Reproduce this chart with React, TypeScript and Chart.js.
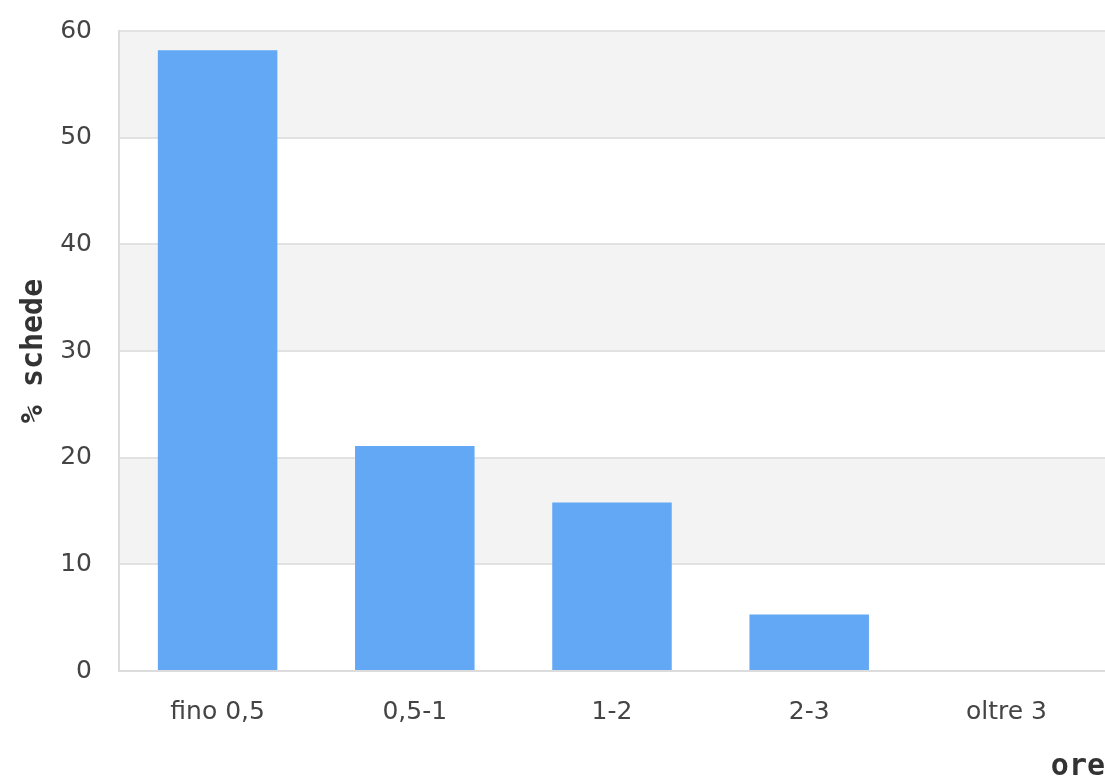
import React, { useEffect, useRef } from "react";
import { Chart, registerables } from "chart.js";

Chart.register(...registerables);

const categories = ["fino 0,5", "0,5-1", "1-2", "2-3", "oltre 3"];
const values = [58.2, 21.1, 15.8, 5.3, 0];
const yTicks = [0, 10, 20, 30, 40, 50, 60];
const yTitle = "% schede";
const xTitle = "ore";

const bandsPlugin = {
  id: "bands",
  beforeDraw(chart: any) {
    const { ctx, chartArea } = chart;
    const y = chart.scales.y;
    ctx.save();
    ctx.fillStyle = "#f3f3f3";
    for (let i = 0; i < yTicks.length - 1; i++) {
      const lo = yTicks[i];
      const hi = yTicks[i + 1];
      if (i % 2 === 1) {
        const top = y.getPixelForValue(hi);
        const bot = y.getPixelForValue(lo);
        ctx.fillRect(chartArea.left, top, chartArea.right - chartArea.left, bot - top);
      }
    }
    ctx.restore();
  },
};

export default function App() {
  const ref = useRef<HTMLCanvasElement>(null);
  useEffect(() => {
    if (!ref.current) return;
    const chart = new Chart(ref.current, {
      type: "bar",
      data: {
        labels: categories,
        datasets: [
          {
            data: values,
            backgroundColor: "#62a8f4",
            borderWidth: 0,
            barPercentage: 0.606,
            categoryPercentage: 1,
          },
        ],
      },
      options: {
        responsive: false,
        animation: false,
        devicePixelRatio: 1,
        layout: { padding: { top: 31, left: 0, right: 0, bottom: 0 } },
        plugins: { legend: { display: false }, tooltip: { enabled: false } },
        scales: {
          x: {
            grid: { display: false, drawTicks: false },
            border: { display: true, color: "#dcdcdc", width: 2 },
            ticks: {
              color: "#444",
              font: { family: "DejaVu Sans", size: 25 },
              padding: 26,
              maxRotation: 0,
            },
            title: {
              display: true,
              text: xTitle,
              align: "end",
              color: "#333",
              font: { family: "DejaVu Sans Mono", size: 30, weight: "bold", lineHeight: 1 },
              padding: { top: 0, bottom: -2 },
            },
            afterFit: (s: any) => {
              s.height = 109;
              s.paddingLeft = 0;
              s.paddingRight = 0;
            },
          },
          y: {
            min: 0,
            max: 60,
            afterBuildTicks: (s: any) => {
              s.ticks = yTicks.map((v) => ({ value: v }));
            },
            grid: { color: "#e2e2e2", lineWidth: 2, drawTicks: false },
            border: { display: true, color: "#dcdcdc", width: 2 },
            ticks: {
              color: "#444",
              font: { family: "DejaVu Sans", size: 25 },
              padding: 27,
            },
            title: {
              display: true,
              text: yTitle,
              color: "#333",
              font: { family: "DejaVu Sans Mono", size: 30, weight: "bold", lineHeight: 1 },
              padding: { top: 19, bottom: 0 },
            },
            afterFit: (s: any) => {
              s.width = 119;
              s.paddingTop = 0;
              s.paddingBottom = 0;
            },
          },
        },
      },
      plugins: [bandsPlugin],
    });
    return () => chart.destroy();
  }, []);
  return (
    <div
      style={{
        position: "fixed",
        left: 0,
        top: 0,
        width: 1105,
        height: 780,
        overflow: "hidden",
        background: "#fff",
      }}
    >
      <canvas ref={ref} width={1105} height={780} style={{ width: 1105, height: 780, display: "block" }} />
    </div>
  );
}
